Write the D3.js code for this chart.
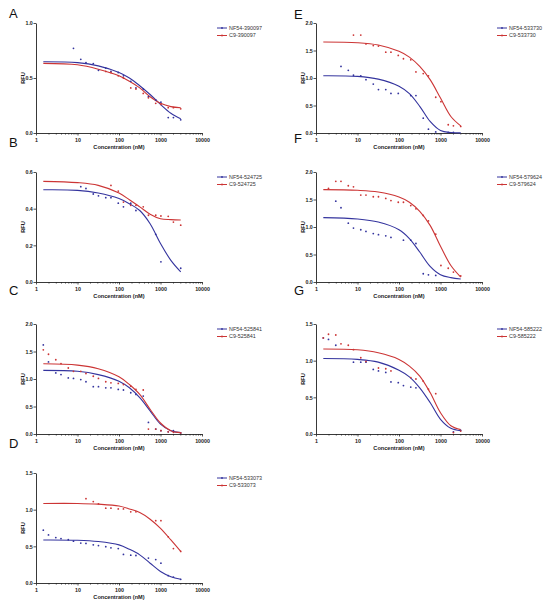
<!DOCTYPE html>
<html><head><meta charset="utf-8">
<script src="https://cdn.jsdelivr.net/npm/d3@7"></script>
<style>body{margin:0;background:#fff}svg{display:block}</style>
</head><body><svg id="c" width="552" height="609"></svg>
<script>
// ---------- DATA ----------
const concentrations = [1.5,2,3,4,6,8,12,16,24,32,48,64,96,128,192,256,384,512,768,1024,1536,2048,3072];
const curveConc = [1.5,10,31.6,100,178,316,562,1000,1778,3072];
const panelLetters = ["A","B","C","D","E","F","G"];
const compoundIds = ["390097","524725","525841","533073","533730","579624","585222"];
const yMaxima = [1.0,0.6,2.0,1.5,2.0,2.0,1.5];
const yTickSteps = [0.5,0.2,0.5,0.5,0.5,0.5,0.5];
const xTickValues = [1,10,100,1000,10000];
const xTickLabels = ["1","10","100","1000","10000"];
const seriesPrefixes = ["NF54","C9"];
const N = null;

// NF54 (blue) points, per panel, aligned with concentrations
const nf54PointsA = [N,N,N,N,N,0.77,0.67,0.64,0.63,0.57,0.59,0.56,0.55,0.52,0.47,0.41,0.40,0.33,0.30,0.28,0.14,0.14,0.12];
const nf54PointsB = [N,N,N,N,N,N,0.52,0.51,0.48,0.47,0.46,0.46,0.43,0.41,0.43,0.39,N,N,0.26,0.11,N,N,0.075];
const nf54PointsC = [1.62,1.31,1.11,1.08,1.02,1.01,0.99,0.95,0.86,0.86,0.84,0.84,0.81,0.80,0.75,0.72,0.69,0.21,0.09,0.06,0.04,0.06,0.02];
const nf54PointsD = [0.72,0.656,0.62,0.606,0.59,0.57,0.545,0.54,0.52,0.51,0.495,0.48,0.47,0.39,0.38,0.375,N,0.34,0.32,0.27,0.10,0.08,0.05];
const nf54PointsE = [N,N,N,1.21,1.14,1.05,1.04,0.97,0.89,0.79,0.79,0.72,0.72,N,0.68,0.68,0.27,0.07,0.02,N,0.01,0.01,N];
const nf54PointsF = [N,N,1.47,1.35,1.07,0.98,0.95,0.92,0.88,0.86,0.84,0.81,N,0.76,0.76,0.70,0.15,0.13,0.12,N,N,N,N];
const nf54PointsG = [1.31,1.29,1.21,N,N,0.98,0.98,0.98,0.88,0.86,0.84,0.71,0.70,0.66,0.64,0.63,N,N,N,N,N,0.03,0.05];

// C9 (red) points
const c9PointsA = [N,N,N,N,N,N,N,N,N,N,0.56,0.55,0.52,0.50,0.41,0.40,0.36,0.32,0.27,0.26,0.23,0.23,0.22];
const c9PointsB = [N,N,N,N,N,N,N,N,N,N,N,0.527,0.496,0.436,0.418,0.418,0.41,0.364,0.364,0.36,0.358,0.327,0.31];
const c9PointsC = [1.53,1.45,1.35,1.28,1.20,1.14,1.14,1.10,1.05,1.01,0.95,0.93,0.92,0.90,0.87,0.81,0.80,0.09,0.09,0.06,0.04,0.03,0.02];
const c9PointsD = [N,N,N,N,N,N,N,1.15,1.11,1.08,1.02,1.02,1.01,1.01,0.97,0.97,N,N,0.85,0.85,0.63,0.47,0.43];
const c9PointsE = [N,N,N,N,N,1.78,1.78,1.62,1.59,1.58,1.47,1.47,1.41,1.35,1.33,1.11,1.08,1.04,0.65,0.57,0.15,0.13,0.12];
const c9PointsF = [N,1.70,1.83,1.83,1.75,1.73,1.58,1.58,1.55,1.55,1.52,1.48,1.45,1.45,1.39,1.33,1.21,1.11,0.87,0.30,0.25,0.18,0.11];
const c9PointsG = [1.31,1.36,1.35,1.23,1.21,1.15,1.04,0.99,N,0.90,0.89,0.86,N,N,0.77,0.75,0.72,0.61,0.55,N,N,0.02,0.04];

// Fitted curves at curveConc
const nf54CurveA = [0.648,0.64,0.61,0.55,0.50,0.43,0.35,0.26,0.18,0.13];
const nf54CurveB = [0.503,0.50,0.485,0.455,0.427,0.39,0.318,0.21,0.118,0.055];
const nf54CurveC = [1.157,1.14,1.08,0.96,0.84,0.66,0.42,0.18,0.06,0.025];
const nf54CurveD = [0.587,0.583,0.565,0.52,0.46,0.384,0.27,0.158,0.086,0.05];
const nf54CurveE = [1.042,1.03,0.98,0.85,0.715,0.485,0.21,0.045,0.008,0.002];
const nf54CurveF = [1.17,1.145,1.09,0.95,0.79,0.545,0.285,0.133,0.08,0.055];
const nf54CurveG = [1.03,1.017,0.98,0.87,0.78,0.63,0.43,0.20,0.077,0.045];

const c9CurveA = [0.633,0.62,0.58,0.52,0.47,0.41,0.33,0.27,0.24,0.23];
const c9CurveB = [0.549,0.542,0.527,0.485,0.449,0.41,0.37,0.345,0.34,0.338];
const c9CurveC = [1.277,1.253,1.187,1.04,0.90,0.72,0.45,0.20,0.06,0.025];
const c9CurveD = [1.085,1.085,1.075,1.05,1.01,0.96,0.87,0.745,0.587,0.43];
const c9CurveE = [1.655,1.642,1.60,1.485,1.38,1.21,0.97,0.636,0.30,0.13];
const c9CurveF = [1.68,1.667,1.636,1.545,1.45,1.285,1.03,0.65,0.30,0.09];
const c9CurveG = [1.16,1.148,1.107,1.017,0.926,0.79,0.565,0.29,0.113,0.06];

const nf54Points = [nf54PointsA,nf54PointsB,nf54PointsC,nf54PointsD,nf54PointsE,nf54PointsF,nf54PointsG];
const c9Points = [c9PointsA,c9PointsB,c9PointsC,c9PointsD,c9PointsE,c9PointsF,c9PointsG];
const nf54Curves = [nf54CurveA,nf54CurveB,nf54CurveC,nf54CurveD,nf54CurveE,nf54CurveF,nf54CurveG];
const c9Curves = [c9CurveA,c9CurveB,c9CurveC,c9CurveD,c9CurveE,c9CurveF,c9CurveG];

// ---------- LAYOUT ----------
const colors = ["#34349e","#cc3535"];
const plotLefts = [36,36,36,36,316,316,316];
const plotTops = [23,172,324,473,23,172,324];
const plotW = 166, plotH = 110;
const letterPos = [[9,18],[9,147],[9,295],[9,448],[294,19],[294,143],[294,295]];
const FONT = "'Liberation Sans', Arial, sans-serif";

const svg = d3.select("#c");

panelLetters.forEach((letter, i) => {
  const x0 = plotLefts[i], y0 = plotTops[i];
  const g = svg.append("g").attr("transform", `translate(${x0},${y0})`);
  const x = d3.scaleLog().domain([1,10000]).range([0,plotW]);
  const y = d3.scaleLinear().domain([0,yMaxima[i]]).range([plotH,0]);

  svg.append("text").attr("x", letterPos[i][0]).attr("y", letterPos[i][1])
    .attr("font-family", FONT).attr("font-size", 13).attr("fill", "#111").text(letter);

  const minor = [];
  for (let d = 1; d < 10000; d *= 10) for (let k = 2; k <= 9; k++) minor.push(d*k);
  const xMinor = g.append("g").attr("transform", `translate(0,${plotH})`)
    .call(d3.axisBottom(x).tickValues(minor).tickSize(1.6).tickFormat(""));
  xMinor.select(".domain").remove();
  xMinor.selectAll("line").attr("stroke", "#222").attr("stroke-width", 0.7);
  const xAx = g.append("g").attr("transform", `translate(0,${plotH})`)
    .call(d3.axisBottom(x).tickValues(xTickValues).tickSize(2.5).tickSizeOuter(0)
      .tickFormat((d, j) => xTickLabels[j]));
  xAx.select(".domain").attr("stroke", "#222").attr("stroke-width", 0.9);
  xAx.selectAll("line").attr("stroke", "#222").attr("stroke-width", 0.8);
  xAx.selectAll("text").attr("font-family", FONT).attr("font-size", 5.3)
    .attr("font-weight", "bold").attr("fill", "#222").attr("dy", 0).attr("y", 8.5);

  const yTicks = d3.range(0, yMaxima[i] + 1e-9, yTickSteps[i]);
  const yAx = g.append("g")
    .call(d3.axisLeft(y).tickValues(yTicks).tickSize(2.5).tickSizeOuter(0).tickFormat(d3.format(".1f")));
  yAx.select(".domain").attr("stroke", "#222").attr("stroke-width", 0.9);
  yAx.selectAll("line").attr("stroke", "#222").attr("stroke-width", 0.8);
  yAx.selectAll("text").attr("font-family", FONT).attr("font-size", 5.3)
    .attr("font-weight", "bold").attr("fill", "#222").attr("x", -3.2);

  g.append("text").attr("x", plotW/2).attr("y", plotH + 16)
    .attr("text-anchor", "middle").attr("font-family", FONT).attr("font-size", 5.6)
    .attr("font-weight", "bold").attr("fill", "#222").text("Concentration  (nM)");
  g.append("text").attr("transform", `translate(-11.5,${plotH/2}) rotate(-90)`)
    .attr("text-anchor", "middle").attr("font-family", FONT).attr("font-size", 5.6)
    .attr("font-weight", "bold").attr("fill", "#222").text("RFU");

  const line = d3.line().x(d => x(d[0])).y(d => y(d[1])).curve(d3.curveCatmullRom.alpha(0.5));
  [nf54Curves[i], c9Curves[i]].forEach((cv, s) => {
    g.append("path").datum(curveConc.map((c, j) => [c, cv[j]]))
      .attr("d", line).attr("fill", "none").attr("stroke", colors[s]).attr("stroke-width", 1.1);
  });
  [nf54Points[i], c9Points[i]].forEach((pts, s) => {
    g.selectAll(null).data(concentrations.map((c, j) => [c, pts[j]]).filter(d => d[1] !== null))
      .enter().append("circle").attr("cx", d => x(d[0])).attr("cy", d => y(d[1]))
      .attr("r", 0.9).attr("fill", colors[s]);
  });

  const lg = g.append("g").attr("transform", `translate(${plotW + 15},5)`);
  seriesPrefixes.forEach((p, s) => {
    const row = lg.append("g").attr("transform", `translate(0,${s*7.5})`);
    row.append("line").attr("x1", 0).attr("x2", 10).attr("y1", 0).attr("y2", 0)
      .attr("stroke", colors[s]).attr("stroke-width", 1);
    row.append("circle").attr("cx", 5).attr("cy", 0).attr("r", 0.9).attr("fill", colors[s]);
    row.append("text").attr("x", 12).attr("y", 0).attr("dy", "0.35em")
      .attr("font-family", FONT).attr("font-size", 5.4).attr("fill", "#333")
      .text(`${p}-${compoundIds[i]}`);
  });
});
</script></body></html>
